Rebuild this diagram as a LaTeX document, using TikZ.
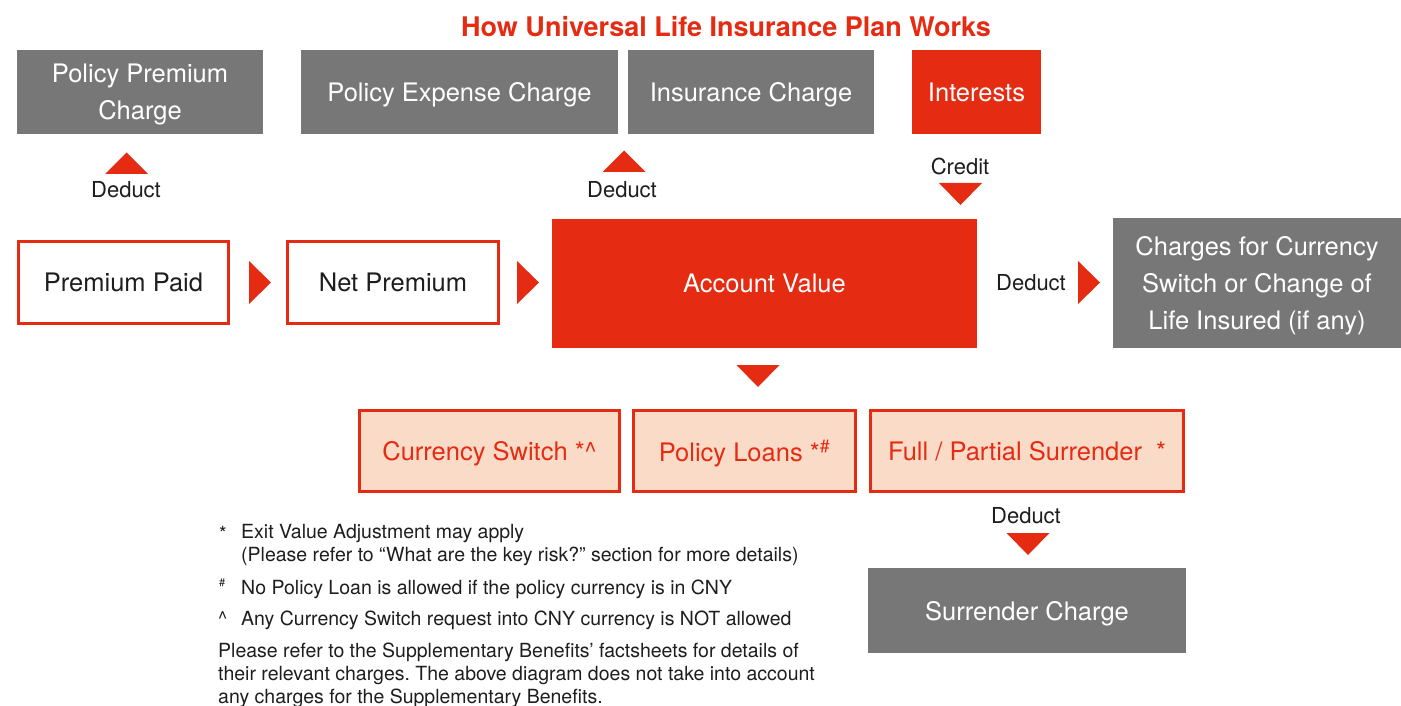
\documentclass[tikz,border=0pt]{standalone}
\usepackage{fontspec}
\setmainfont{TeX Gyre Heros}
\frenchspacing
\definecolor{ured}{HTML}{E52B12}
\definecolor{ugray}{HTML}{777777}
\definecolor{upeach}{HTML}{FADBC8}
\definecolor{utext}{HTML}{1E1E1E}
\tikzset{
  boxtext/.style={inner sep=0pt, align=center, text depth=0pt, font=\fontsize{25.5}{37}\selectfont},
  gbox/.style={boxtext, fill=ugray, text=white},
  rbox/.style={boxtext, fill=ured, text=white},
  obox/.style={boxtext, draw=ured, line width=3pt, fill=white, text=utext},
  pbox/.style={boxtext, draw=ured, line width=3pt, fill=upeach, text=ured},
  lbl/.style={inner sep=0pt, text=utext, font=\fontsize{22}{26}\selectfont},
  note/.style={anchor=base west, inner sep=0pt, text=utext, font=\fontsize{19.5}{23}\selectfont},
  uptri/.pic={\fill[ured] (-21.5,0) -- (21.5,0) -- (0,-21.5) -- cycle;},
  downtri/.pic={\fill[ured] (-21.5,0) -- (21.5,0) -- (0,22) -- cycle;},
  righttri/.pic={\fill[ured] (0,-21.5) -- (0,21.5) -- (22,0) -- cycle;}
}
\begin{document}
\begin{tikzpicture}[x=1pt,y=-1pt]
\useasboundingbox[fill=white] (0,0) rectangle (1401,706);

% title
\node[text=ured, inner sep=0pt, font=\bfseries\fontsize{27}{30}\selectfont] (title) at (726,27) {How Universal Life Insurance Plan Works};

% top row
\node[gbox, minimum width=246pt, minimum height=84pt] (ppc) at (140,92) {Policy Premium\\Charge};
\node[gbox, minimum width=317pt, minimum height=84pt] (pec) at (459.5,92) {Policy Expense Charge};
\node[gbox, minimum width=246pt, minimum height=84pt] (ic) at (751,92) {Insurance Charge};
\node[rbox, minimum width=129pt, minimum height=84pt] (int) at (976.5,92) {Interests};

% labels top
\node[lbl] (d1) at (126,190) {Deduct};
\node[lbl] (d2) at (622,190) {Deduct};
\node[lbl] (cr) at (960,166) {Credit};

% middle row
\node[obox, minimum width=210pt, minimum height=82pt] (pp) at (123.5,282.5) {Premium Paid};
\node[obox, minimum width=211pt, minimum height=82pt] (np) at (393,282.5) {Net Premium};
\node[rbox, minimum width=425pt, minimum height=129pt] (av) at (764.5,283.5) {Account Value};
\node[lbl] (d3) at (1031,283) {Deduct};
\node[gbox, minimum width=288pt, minimum height=130pt] (cc) at (1257,283) {Charges for Currency\\Switch or Change of\\Life Insured (if any)};

% bottom row
\node[pbox, minimum width=260pt, minimum height=81pt] (cs) at (489.5,451) {Currency Switch *\textasciicircum};
\node[pbox, minimum width=222pt, minimum height=81pt] (pl) at (744.5,451) {Policy Loans *\textsuperscript{\#}};
\node[pbox, minimum width=313pt, minimum height=81pt] (fps) at (1027,451) {Full / Partial Surrender\hspace{14pt}*};
\node[lbl] (d4) at (1026,516) {Deduct};
\node[gbox, minimum width=318pt, minimum height=85pt] (sc) at (1027,610.5) {Surrender Charge};

% triangles
\pic at (126.5,174) {uptri};
\pic at (624,172) {uptri};
\pic at (960.5,183) {downtri};
\pic at (249,282.5) {righttri};
\pic at (517,282.5) {righttri};
\pic at (1078,282.5) {righttri};
\pic at (758,365) {downtri};
\pic at (1028,533) {downtri};

% notes
\node[note] (n1a) at (219,540) {*};
\node[note] (n1b) at (241,538) {Exit Value Adjustment may apply};
\node[note] (n1c) at (241,561) {(Please refer to “What are the key risk?” section for more details)};
\node[note, font=\fontsize{11}{12}\selectfont] (n2a) at (219,586) {\#};
\node[note] (n2b) at (241,594) {No Policy Loan is allowed if the policy currency is in CNY};
\node[note] (n3a) at (218,625) {\textasciicircum};
\node[note] (n3b) at (241,625) {Any Currency Switch request into CNY currency is NOT allowed};
\node[note] (p1) at (218,657) {Please refer to the Supplementary Benefits’ factsheets for details of};
\node[note] (p2) at (218,680) {their relevant charges. The above diagram does not take into account};
\node[note] (p3) at (218,703) {any charges for the Supplementary Benefits.};
\end{tikzpicture}
\end{document}
